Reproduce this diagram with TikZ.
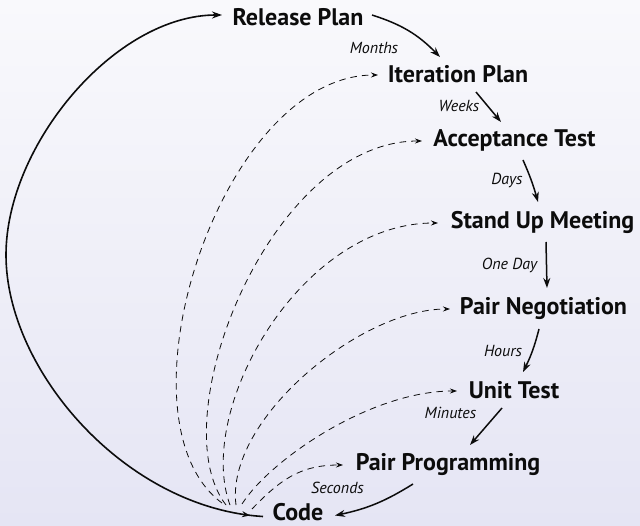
\documentclass[tikz,border=0pt]{standalone}
\usepackage{fontspec}
\setmainfont{PT Sans}
\usetikzlibrary{arrows.meta,decorations.markings}

\definecolor{bgtop}{RGB}{249,249,252}
\definecolor{bgbottom}{RGB}{229,229,244}
\definecolor{ink}{RGB}{12,12,12}

\tikzset{
  stage/.style={anchor=base, inner sep=0pt, font=\fontsize{24}{27}\selectfont\bfseries, text=ink},
  period/.style={anchor=base, inner sep=0pt, font=\fontsize{16}{18}\selectfont\itshape, text=ink},
  flow/.style={draw=ink, line width=1.5pt, -{Stealth[length=10pt,width=7pt]}},
  loop/.style={draw=ink, line width=1.6pt, -{Stealth[length=10pt,width=7pt]}},
  feedback/.style={draw=ink, line width=0.8pt, dash pattern=on 6.5pt off 5pt,
    -{Stealth[length=7pt,width=5pt]}},
}

\begin{document}
\begin{tikzpicture}[x=1pt,y=1pt]
  % background
  \shade[top color=bgtop, bottom color=bgbottom] (0,0) rectangle (640,-526);
  \useasboundingbox (0,0) rectangle (640,-526);

  % stages of the planning / feedback cycle
  \node[stage] (rel)   at (298,-26)   {Release Plan};
  \node[stage] (itp)   at (458,-83)   {Iteration Plan};
  \node[stage] (acc)   at (514.5,-147){Acceptance Test};
  \node[stage] (sum)   at (542.5,-229){Stand Up Meeting};
  \node[stage] (pneg)  at (543.5,-315){Pair Negotiation};
  \node[stage] (ut)    at (514,-399)  {Unit Test};
  \node[stage] (pprog) at (448,-471)  {Pair Programming};
  \node[stage] (code)  at (298,-520.5){Code};

  % time scales
  \node[period] (tmonths)  at (374,-54)   {Months};
  \node[period] (tweeks)   at (459,-112)  {Weeks};
  \node[period] (tdays)    at (507,-185)  {Days};
  \node[period] (toneday)  at (509.5,-270){One Day};
  \node[period] (thours)   at (503,-357)  {Hours};
  \node[period] (tminutes) at (450.5,-419){Minutes};
  \node[period] (tseconds) at (337.5,-493){Seconds};

  % main sequence
  \draw[flow] ([shift={(74pt,11pt)}]rel.base) to[bend left=14] ([shift={(-18pt,26pt)}]itp.base);
  \draw[flow] ([shift={(18pt,-9pt)}]itp.base) -- ([shift={(-13.5pt,25pt)}]acc.base);
  \draw[flow] ([shift={(8.5pt,-13pt)}]acc.base) to[bend left=4] ([shift={(-4.5pt,27pt)}]sum.base);
  \draw[flow] ([shift={(3.5pt,-13pt)}]sum.base) -- ([shift={(3.5pt,27pt)}]pneg.base);
  \draw[flow] ([shift={(-4.5pt,-14pt)}]pneg.base) to[bend left=6] ([shift={(9pt,27pt)}]ut.base);
  \draw[flow] ([shift={(-12pt,-9pt)}]ut.base) -- ([shift={(22pt,26pt)}]pprog.base);
  \draw[flow] ([shift={(-35pt,-13pt)}]pprog.base) to[bend left=10] ([shift={(37pt,5pt)}]code.base);

  % outer loop from code back to the release plan
  \draw[loop, postaction={decorate}, decoration={markings,
      mark=at position 21pt with {\arrow{Stealth[reversed,length=8pt,width=6pt]}}}]
    ([shift={(-35pt,4pt)}]code.base)
      .. controls (125,-508) and (6,-370) .. (6,-255)
      .. controls (6,-145) and (115,-15) .. ([shift={(-76pt,11pt)}]rel.base);

  % feedback paths leaving the code
  \coordinate (f1) at (222,-503);
  \coordinate (f2) at (226,-505);
  \coordinate (f3) at (230,-505);
  \coordinate (f4) at (236,-505);
  \coordinate (f5) at (242,-504);
  \coordinate (f6) at (252,-509);

  \draw[feedback] (f1) .. controls (110,-420) and (220,-75) .. ([shift={(-80pt,8pt)}]itp.base);
  \draw[feedback] (f2) .. controls (160,-420) and (270,-141) .. ([shift={(-92.5pt,6pt)}]acc.base);
  \draw[feedback] (f3) .. controls (195,-410) and (300,-223) .. ([shift={(-104.5pt,6pt)}]sum.base);
  \draw[feedback] (f4) .. controls (225,-420) and (360,-309) .. ([shift={(-93.5pt,6pt)}]pneg.base);
  \draw[feedback] (f5) .. controls (270,-460) and (370,-391) .. ([shift={(-57pt,8pt)}]ut.base);
  \draw[feedback] (f6) .. controls (280,-480) and (300,-465) .. ([shift={(-105pt,6pt)}]pprog.base);
\end{tikzpicture}
\end{document}
